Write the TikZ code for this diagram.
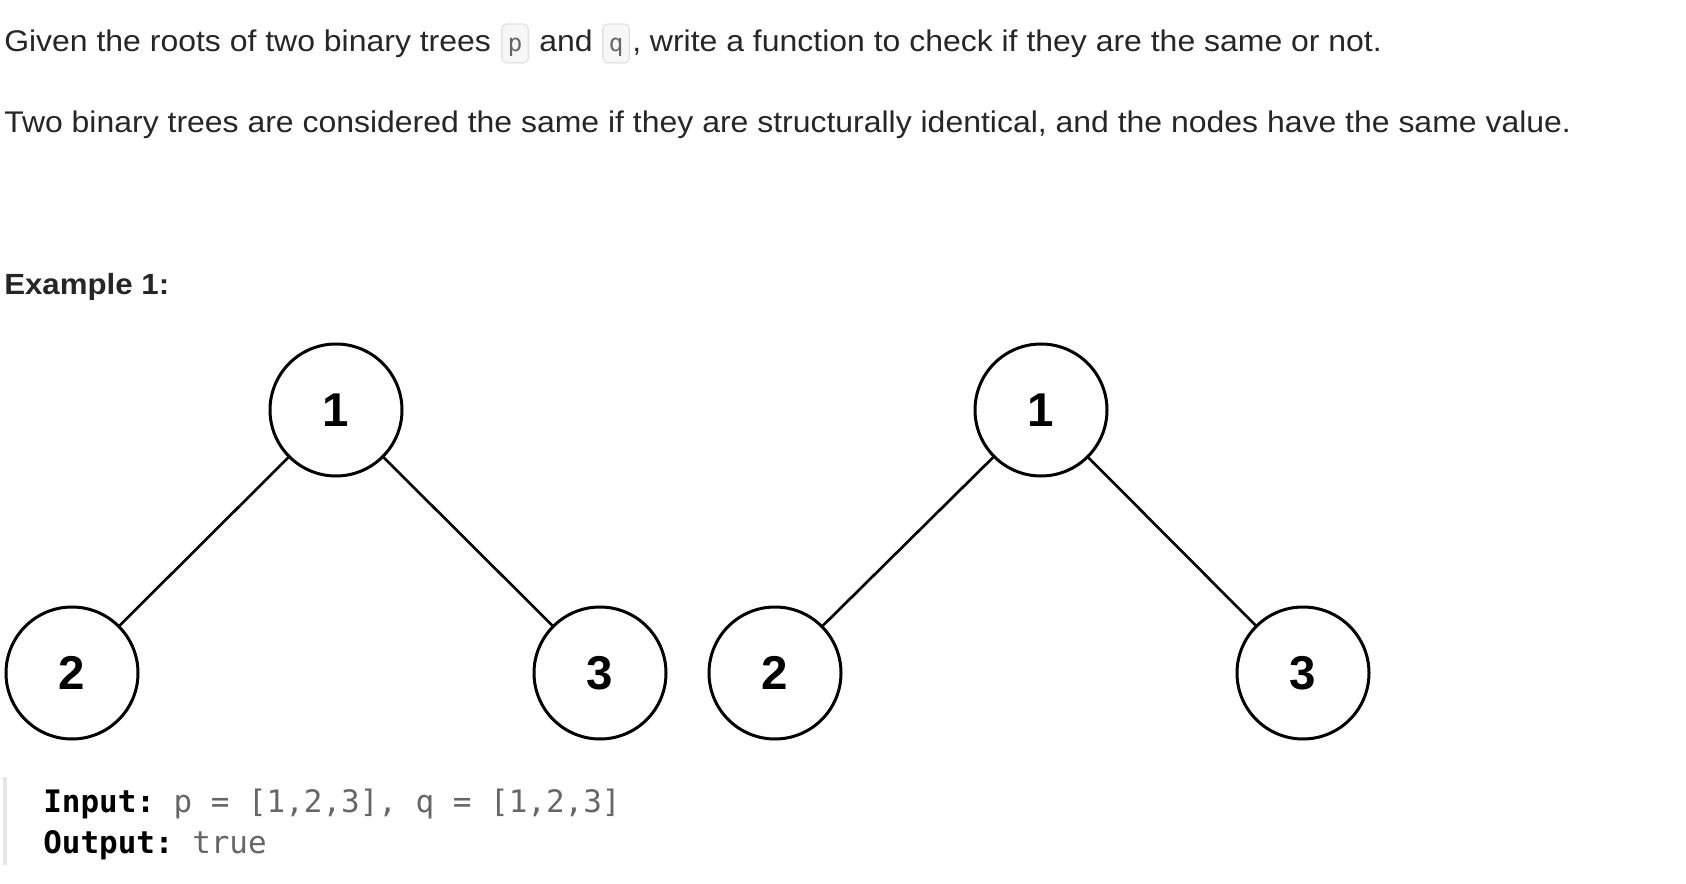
\documentclass[tikz,border=0pt]{standalone}
\usepackage{fontspec}
\setmainfont[FakeStretch=1.07]{Liberation Sans}
\newfontfamily\codefont{DejaVu Sans Mono}
\newfontfamily\numfont{Liberation Sans}
\definecolor{txtc}{HTML}{262626}
\definecolor{codegray}{HTML}{666666}
\definecolor{boxfill}{HTML}{F7F7F7}
\definecolor{boxline}{HTML}{E3E3E3}
\definecolor{barc}{HTML}{E5E5E5}
\begin{document}
\begin{tikzpicture}[x=0.75pt,y=-0.75pt,
  body/.style={inner sep=0pt, anchor=base west, text=txtc, font=\fontsize{22.4}{26}\selectfont},
  heading/.style={body, font=\fontsize{21.9}{26}\selectfont\bfseries},
  codebox/.style={anchor=base west, draw=boxline, fill=boxfill, line width=1pt, rounded corners=3.75pt,
    inner xsep=4.5pt, inner ysep=6pt, text height=15pt, text depth=2.25pt, text=codegray,
    font=\codefont\fontsize{18}{20}\selectfont},
  code/.style={inner sep=0pt, anchor=base west, text=black, font=\codefont\fontsize{23.2}{27}\selectfont\frenchspacing},
  tnode/.style={circle, draw=black, line width=2.25pt, fill=white, minimum size=99pt, inner sep=0pt,
    font=\numfont\fontsize{35.6}{40}\selectfont\bfseries},
  edge/.style={draw=black, line width=2pt}]
\useasboundingbox (0,0) rectangle (1686,884);
% text
\node[body] (l1a) at (4,52) {Given the roots of two binary trees};
\node[codebox] (pbox) at ([xshift=7.5]l1a.base east) {p};
\node[body] (l1b) at ([xshift=7.5]pbox.base east) {and};
\node[codebox] (qbox) at ([xshift=7]l1b.base east) {q};
\node[body] (l1c) at ([xshift=1.5]qbox.base east) {, write a function to check if they are the same or not.};
\node[body] (l2) at (4,133) {Two binary trees are considered the same if they are structurally identical, and the nodes have the same value.};
\node[heading] (ex) at (4,295) {Example 1:};
% trees
\node[tnode] (r1) at (336,410) {1};
\node[tnode] (a2) at (72,673) {2};
\node[tnode] (a3) at (600,673) {3};
\node[tnode] (r2) at (1041,410) {1};
\node[tnode] (b2) at (775,673) {2};
\node[tnode] (b3) at (1303,673) {3};
\draw[edge] (r1) -- (a2);
\draw[edge] (r1) -- (a3);
\draw[edge] (r2) -- (b2);
\draw[edge] (r2) -- (b3);
% code block
\fill[barc] (3,777) rectangle (7,865);
\node[code] (inp) at (43,812) {\textbf{Input:} \textcolor{codegray}{p = [1,2,3], q = [1,2,3]}};
\node[code] (outp) at (43,853) {\textbf{Output:} \textcolor{codegray}{true}};
\end{tikzpicture}
\end{document}
